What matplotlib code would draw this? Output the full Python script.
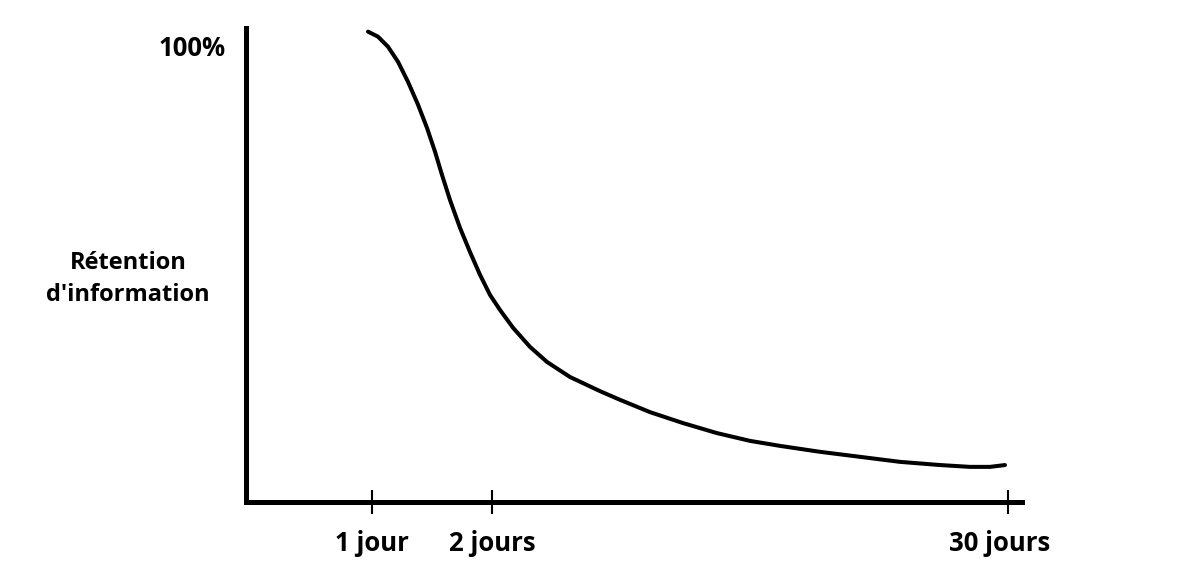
import matplotlib
matplotlib.use("Agg")
import matplotlib.pyplot as plt
import matplotlib.transforms as mtransforms

# curve: x in axis units (0 = vertical axis), y = retention %
curve_x = [122, 132, 142, 152, 162, 172, 181, 189, 196, 204, 214, 224, 234, 244, 254, 267, 284,
           301, 324, 354, 374, 404, 437, 471, 504, 534, 574, 614, 654, 694, 724, 744, 759]
curve_y = [103.1, 102.0, 99.8, 96.5, 92.1, 87.1, 82.0, 76.8, 71.7, 66.2, 60.1, 54.8, 49.8, 45.4,
           42.1, 38.2, 34.0, 30.7, 27.4, 24.3, 22.4, 19.7, 17.3, 15.1, 13.4, 12.3, 11.0, 9.9,
           8.8, 8.1, 7.7, 7.7, 8.1]

tick_pos = [126, 246, 762]
tick_labels = ["1 jour", "2 jours", "30 jours"]
ytick_pos = [100]
ytick_labels = ["100%"]

plt.rcParams['font.family'] = ['Open Sans', 'DejaVu Sans']

fig = plt.figure(figsize=(11.93, 5.82), dpi=100)
ax = fig.add_axes([246 / 1193, 80 / 582, 776 / 1193, 474 / 582])

ax.plot(curve_x, curve_y, color="black", lw=2.9, solid_capstyle="round", solid_joinstyle="round")

ax.set_xlim(0, 776)
ax.set_ylim(0, 103.9)

for s in ["top", "right"]:
    ax.spines[s].set_visible(False)
for s in ["left", "bottom"]:
    ax.spines[s].set_linewidth(3.6)
    ax.spines[s].set_color("black")

ax.set_xticks(tick_pos)
ax.set_xticklabels(tick_labels, fontsize=18.5, fontweight="bold")
ax.tick_params(axis="x", direction="inout", length=17, width=1.5, pad=12, colors="black")

# the last label sits a little left of its tick in the original
lbl = ax.get_xticklabels()[-1]
lbl.set_transform(lbl.get_transform() + mtransforms.ScaledTranslation(-8 / 100, 0, fig.dpi_scale_trans))

ax.set_yticks(ytick_pos)
ax.set_yticklabels(ytick_labels, fontsize=18.5, fontweight="bold")
ax.tick_params(axis="y", length=0, pad=15)

ax.text(-0.152, 0.47, "Rétention\nd'information", transform=ax.transAxes,
        ha="center", va="center", fontsize=17, fontweight="bold", linespacing=1.45)

fig.savefig("out.png", dpi=100, facecolor="white")
